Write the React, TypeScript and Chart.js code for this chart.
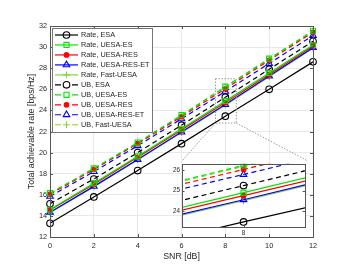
import React, { useEffect, useRef } from "react";
import { Chart, registerables } from "chart.js";

Chart.register(...registerables);

// ---------------- data ----------------
const SNR_DB = [0, 2, 4, 6, 8, 10, 12];
const RATE_ESA = [13.3, 15.8, 18.3, 20.85, 23.45, 26.0, 28.6];
const RATE_UESA_ES = [14.6, 17.1, 19.65, 22.25, 24.9, 27.55, 30.2];
const RATE_UESA_RES = [14.55, 17.0, 19.55, 22.15, 24.75, 27.4, 30.1];
const RATE_UESA_RES_ET = [14.35, 16.8, 19.35, 21.95, 24.55, 27.25, 29.95];
const RATE_FAST_UESA = [14.3, 16.75, 19.3, 21.9, 24.5, 27.2, 29.9];
const UB_ESA = [15.15, 17.5, 20.0, 22.6, 25.25, 27.9, 30.55];
const UB_UESA_ES = [16.15, 18.5, 20.95, 23.55, 26.25, 28.9, 31.55];
const UB_UESA_RES = [16.05, 18.4, 20.85, 23.4, 26.05, 28.75, 31.4];
const UB_UESA_RES_ET = [15.85, 18.2, 20.65, 23.2, 25.8, 28.45, 31.1];
const UB_FAST_UESA = [16.1, 18.45, 20.9, 23.5, 26.2, 28.85, 31.5];

const SERIES_LABELS = [
  "Rate, ESA",
  "Rate, UESA-ES",
  "Rate, UESA-RES",
  "Rate, UESA-RES-ET",
  "Rate, Fast-UESA",
  "UB, ESA",
  "UB, UESA-ES",
  "UB, UESA-RES",
  "UB, UESA-RES-ET",
  "UB, Fast-UESA",
];
const SERIES_VALUES = [
  RATE_ESA,
  RATE_UESA_ES,
  RATE_UESA_RES,
  RATE_UESA_RES_ET,
  RATE_FAST_UESA,
  UB_ESA,
  UB_UESA_ES,
  UB_UESA_RES,
  UB_UESA_RES_ET,
  UB_FAST_UESA,
];

const X_TICKS = [0, 2, 4, 6, 8, 10, 12];
const Y_TICKS = [12, 14, 16, 18, 20, 22, 24, 26, 28, 30, 32];
const INSET_X_TICKS = [8];
const INSET_Y_TICKS = [24, 25, 26];
const X_TITLE = "SNR [dB]";
const Y_TITLE = "Total achievable rate [bps/Hz]";

// zoom window (data units)
const INSET_X_RANGE = [7.45, 8.55];
const INSET_Y_RANGE = [23.2, 26.33];
const ZOOM_BOX_X = [7.55, 8.5];
const ZOOM_BOX_Y = [22.8, 27.0];

// ---------------- styles ----------------
const FONT = "'Liberation Sans', Arial, Helvetica, sans-serif";
const TEXT_COLOR = "#262626";
const AXIS_COLOR = "#555555";
const GREEN = "#00e600";
const LIME = "#84d43c";

type Style = { color: string; dashed: boolean; marker: string; r: number; filled: boolean };
const MARKERS: Style[] = [
  { color: "#000000", dashed: false, marker: "circle", r: 3.3, filled: false },
  { color: GREEN, dashed: false, marker: "rect", r: 3.6, filled: false },
  { color: "#ff0000", dashed: false, marker: "circle", r: 2.3, filled: true },
  { color: "#0000ff", dashed: false, marker: "triangle", r: 3.8, filled: false },
  { color: LIME, dashed: false, marker: "cross", r: 3.4, filled: false },
  { color: "#000000", dashed: true, marker: "circle", r: 3.3, filled: false },
  { color: GREEN, dashed: true, marker: "rect", r: 3.6, filled: false },
  { color: "#ff0000", dashed: true, marker: "circle", r: 2.3, filled: true },
  { color: "#0000ff", dashed: true, marker: "triangle", r: 3.8, filled: false },
  { color: LIME, dashed: true, marker: "cross", r: 3.4, filled: false },
];
const DASH = [5, 3.5];

// page geometry
const W = 339;
const H = 265;
const INSET_LEFT = 168;
const INSET_TOP = 158;
const INSET_W = 142;
const INSET_H = 84;

function buildDatasets(clip: any) {
  return SERIES_VALUES.map((vals, i) => {
    const s = MARKERS[i];
    return {
      label: SERIES_LABELS[i],
      data: vals.map((v, k) => ({ x: SNR_DB[k], y: v })),
      borderColor: s.color,
      borderWidth: 1.2,
      borderDash: s.dashed ? DASH : [],
      backgroundColor: s.color,
      pointStyle: s.marker,
      pointRadius: s.r,
      pointHoverRadius: s.r,
      pointBorderWidth: 1.1,
      pointBorderColor: s.color,
      pointBackgroundColor: s.filled ? s.color : "rgba(0,0,0,0)",
      tension: 0,
      fill: false,
      clip,
    };
  });
}

function drawMarker(ctx: CanvasRenderingContext2D, s: Style, x: number, y: number) {
  ctx.save();
  ctx.setLineDash([]);
  ctx.strokeStyle = s.color;
  ctx.fillStyle = s.color;
  ctx.lineWidth = 1.1;
  ctx.beginPath();
  const r = s.r;
  if (s.marker === "circle") {
    ctx.arc(x, y, r, 0, Math.PI * 2);
    if (s.filled) ctx.fill();
    ctx.stroke();
  } else if (s.marker === "rect") {
    const h = r * Math.SQRT1_2;
    ctx.rect(x - h, y - h, 2 * h, 2 * h);
    ctx.stroke();
  } else if (s.marker === "triangle") {
    let a = 0;
    ctx.moveTo(x + Math.sin(a) * r, y - Math.cos(a) * r);
    a += (2 * Math.PI) / 3;
    ctx.lineTo(x + Math.sin(a) * r, y - Math.cos(a) * r);
    a += (2 * Math.PI) / 3;
    ctx.lineTo(x + Math.sin(a) * r, y - Math.cos(a) * r);
    ctx.closePath();
    ctx.stroke();
  } else if (s.marker === "cross") {
    ctx.moveTo(x - r, y);
    ctx.lineTo(x + r, y);
    ctx.moveTo(x, y - r);
    ctx.lineTo(x, y + r);
    ctx.stroke();
  }
  ctx.restore();
}

function drawFrameAndTicks(chart: any, xTicks: number[], yTicks: number[], len: number) {
  const { ctx, chartArea: a, scales } = chart;
  ctx.save();
  ctx.setLineDash([]);
  ctx.strokeStyle = AXIS_COLOR;
  ctx.lineWidth = 1;
  ctx.beginPath();
  for (const v of xTicks) {
    const px = Math.round(scales.x.getPixelForValue(v)) + 0.5;
    ctx.moveTo(px, a.bottom);
    ctx.lineTo(px, a.bottom - len);
    ctx.moveTo(px, a.top);
    ctx.lineTo(px, a.top + len);
  }
  for (const v of yTicks) {
    const py = Math.round(scales.y.getPixelForValue(v)) + 0.5;
    ctx.moveTo(a.left, py);
    ctx.lineTo(a.left + len, py);
    ctx.moveTo(a.right, py);
    ctx.lineTo(a.right - len, py);
  }
  ctx.stroke();
  ctx.strokeRect(Math.round(a.left) + 0.5, Math.round(a.top) + 0.5, Math.round(a.right - a.left), Math.round(a.bottom - a.top));
  ctx.restore();
}

const mainDecor = {
  id: "mainDecor",
  afterDatasetsDraw(chart: any) {
    const { ctx, scales } = chart;
    drawFrameAndTicks(chart, X_TICKS, Y_TICKS, 3);
    // zoom box
    const x0 = scales.x.getPixelForValue(ZOOM_BOX_X[0]);
    const x1 = scales.x.getPixelForValue(ZOOM_BOX_X[1]);
    const y0 = scales.y.getPixelForValue(ZOOM_BOX_Y[1]);
    const y1 = scales.y.getPixelForValue(ZOOM_BOX_Y[0]);
    ctx.save();
    ctx.strokeStyle = "#9a9a9a";
    ctx.lineWidth = 1;
    ctx.setLineDash([1.5, 1.5]);
    ctx.strokeRect(x0, y0, x1 - x0, y1 - y0);
    // connectors to the inset's plot area corners
    const insetAreaLeft = INSET_LEFT + 14;
    const insetAreaRight = INSET_LEFT + INSET_W - 2;
    const insetAreaTop = INSET_TOP + 3;
    ctx.beginPath();
    ctx.moveTo(x0, y1);
    ctx.lineTo(insetAreaLeft, insetAreaTop);
    ctx.moveTo(x1, y1);
    ctx.lineTo(insetAreaRight, insetAreaTop);
    ctx.stroke();
    ctx.restore();
  },
  afterDraw(chart: any) {
    const { ctx, chartArea: a } = chart;
    const bx = a.left + 2;
    const by = a.top + 2;
    ctx.save();
    ctx.fillStyle = "#ffffff";
    ctx.fillRect(bx, by, 100, 104);
    ctx.strokeStyle = "#777777";
    ctx.lineWidth = 1;
    ctx.setLineDash([]);
    ctx.strokeRect(Math.round(bx) + 0.5, Math.round(by) + 0.5, 100, 104);
    ctx.font = `7.3px ${FONT}`;
    ctx.textBaseline = "middle";
    ctx.textAlign = "left";
    SERIES_LABELS.forEach((label, i) => {
      const s = MARKERS[i];
      const y = a.top + 9 + i * 9.97;
      const lx0 = a.left + 5;
      const lx1 = a.left + 28;
      ctx.save();
      ctx.strokeStyle = s.color;
      ctx.lineWidth = 1.2;
      ctx.setLineDash(s.dashed ? [6, 11] : []);
      ctx.beginPath();
      ctx.moveTo(lx0, y);
      ctx.lineTo(lx1, y);
      ctx.stroke();
      ctx.restore();
      drawMarker(ctx, s, (lx0 + lx1) / 2, y);
      ctx.fillStyle = TEXT_COLOR;
      ctx.fillText(label, a.left + 31, y);
    });
    ctx.restore();
  },
};

const insetDecor = {
  id: "insetDecor",
  beforeDraw(chart: any) {
    const { ctx, chartArea: a } = chart;
    ctx.save();
    ctx.fillStyle = "#ffffff";
    ctx.fillRect(a.left, a.top, a.right - a.left, a.bottom - a.top);
    ctx.restore();
  },
  afterDatasetsDraw(chart: any) {
    drawFrameAndTicks(chart, INSET_X_TICKS, INSET_Y_TICKS, 2.5);
  },
};

export default function App() {
  const mainRef = useRef<HTMLCanvasElement>(null);
  const insetRef = useRef<HTMLCanvasElement>(null);

  useEffect(() => {
    const tickFont = { family: FONT, size: 7.3 };
    const main = new Chart(mainRef.current as HTMLCanvasElement, {
      type: "line",
      data: { datasets: buildDatasets(false) as any },
      options: {
        responsive: false,
        animation: false,
        devicePixelRatio: 1,
        layout: { padding: { top: 26, right: 26, left: 0, bottom: 0 } },
        plugins: { legend: { display: false }, tooltip: { enabled: false } },
        scales: {
          x: {
            type: "linear",
            min: 0,
            max: 12,
            afterBuildTicks: (s: any) => {
              s.ticks = X_TICKS.map((v) => ({ value: v }));
            },
            ticks: { font: tickFont, color: TEXT_COLOR, padding: 5, maxRotation: 0, autoSkip: false },
            grid: { color: "#e8e8e8", drawTicks: false, lineWidth: 1 },
            border: { display: false },
            title: { display: true, text: X_TITLE, font: { family: FONT, size: 8.8 }, color: TEXT_COLOR, padding: { top: 0, bottom: 3 } },
            afterFit: (s: any) => {
              s.height = 28;
            },
          },
          y: {
            type: "linear",
            min: 12,
            max: 32,
            afterBuildTicks: (s: any) => {
              s.ticks = Y_TICKS.map((v) => ({ value: v }));
            },
            ticks: { font: tickFont, color: TEXT_COLOR, padding: 3, autoSkip: false },
            grid: { color: "#e8e8e8", drawTicks: false, lineWidth: 1 },
            border: { display: false },
            title: { display: true, text: Y_TITLE, font: { family: FONT, size: 8.8 }, color: TEXT_COLOR, padding: { top: 26.5, bottom: 0 } },
            afterFit: (s: any) => {
              s.width = 50;
            },
          },
        },
      } as any,
      plugins: [mainDecor],
    });

    const inset = new Chart(insetRef.current as HTMLCanvasElement, {
      type: "line",
      data: { datasets: buildDatasets(0) as any },
      options: {
        responsive: false,
        animation: false,
        devicePixelRatio: 1,
        layout: { padding: { top: 3, right: 2, left: 0, bottom: 0 } },
        plugins: { legend: { display: false }, tooltip: { enabled: false } },
        scales: {
          x: {
            type: "linear",
            min: INSET_X_RANGE[0],
            max: INSET_X_RANGE[1],
            afterBuildTicks: (s: any) => {
              s.ticks = INSET_X_TICKS.map((v) => ({ value: v }));
            },
            ticks: { font: { family: FONT, size: 6.3 }, color: TEXT_COLOR, padding: 2, maxRotation: 0, autoSkip: false },
            grid: { display: false, drawTicks: false, tickLength: 0 },
            border: { display: false },
            afterFit: (s: any) => {
              s.height = 15;
            },
          },
          y: {
            type: "linear",
            min: INSET_Y_RANGE[0],
            max: INSET_Y_RANGE[1],
            afterBuildTicks: (s: any) => {
              s.ticks = INSET_Y_TICKS.map((v) => ({ value: v }));
            },
            ticks: { font: { family: FONT, size: 6.3 }, color: TEXT_COLOR, padding: 2, autoSkip: false },
            grid: { display: false, drawTicks: false, tickLength: 0 },
            border: { display: false },
            afterFit: (s: any) => {
              s.width = 14;
            },
          },
        },
      } as any,
      plugins: [insetDecor],
    });

    return () => {
      main.destroy();
      inset.destroy();
    };
  }, []);

  return (
    <div style={{ position: "fixed", left: 0, top: 0, width: W, height: H, background: "#ffffff" }}>
      <canvas ref={mainRef} width={W} height={H} style={{ position: "absolute", left: 0, top: 0 }} />
      <canvas
        ref={insetRef}
        width={INSET_W}
        height={INSET_H}
        style={{ position: "absolute", left: INSET_LEFT, top: INSET_TOP }}
      />
    </div>
  );
}
